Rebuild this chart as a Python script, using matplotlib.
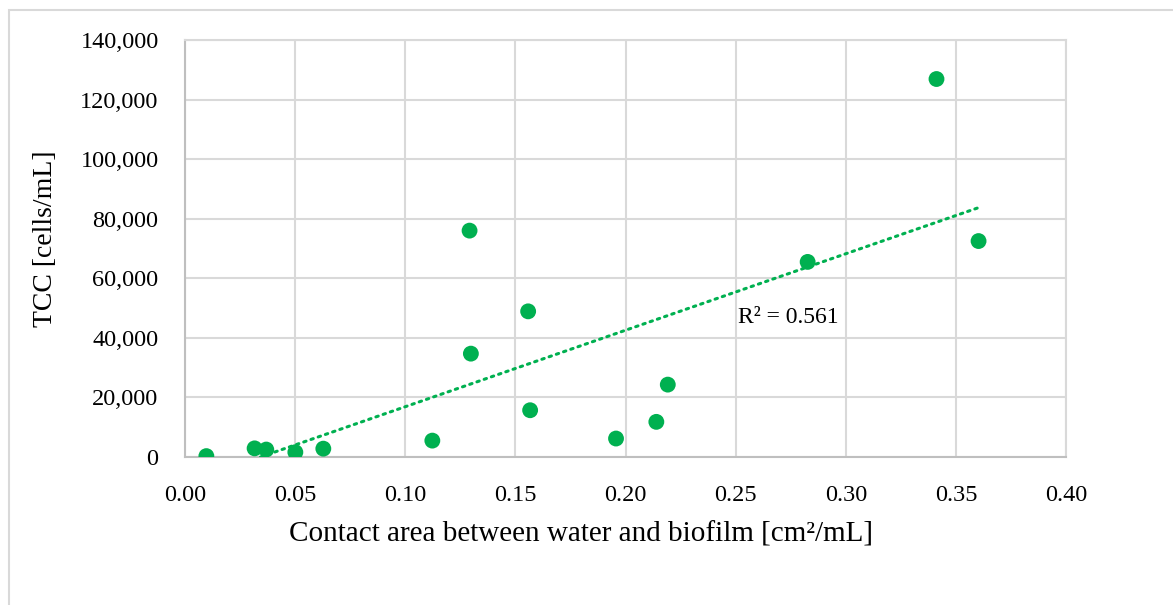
import matplotlib
matplotlib.use("Agg")
import matplotlib.pyplot as plt
import numpy as np
from matplotlib.patches import Rectangle
from matplotlib.ticker import FuncFormatter

contact_area = [0.0097, 0.0316, 0.0369, 0.0501, 0.0628, 0.1123, 0.1292, 0.1298,
                0.1558, 0.1567, 0.1957, 0.2140, 0.2192, 0.2827, 0.3412, 0.3603]
tcc = [300, 2900, 2500, 1600, 2800, 5500, 76000, 34700,
       48900, 15700, 6200, 11800, 24300, 65500, 126900, 72500]
x_ticks = [0.00, 0.05, 0.10, 0.15, 0.20, 0.25, 0.30, 0.35, 0.40]
y_ticks = [0, 20000, 40000, 60000, 80000, 100000, 120000, 140000]
r2_label = "R² = 0.561"

green = "#00B050"
grid_c = "#D9D9D9"
fam = ["Liberation Serif", "DejaVu Serif"]
plt.rcParams['font.family'] = fam

W, H = 1173, 605
fig = plt.figure(figsize=(W / 100, H / 100), dpi=100)
fig.patches.append(Rectangle((9 / W, -0.1), 1.2, 1 - 10 / H + 0.1, transform=fig.transFigure,
                             fill=False, edgecolor="#D9D9D9", linewidth=1.5))

left, right, top, bottom = 185, 1066, 40, 457
ax = fig.add_axes([left / W, 1 - bottom / H, (right - left) / W, (bottom - top) / H])

x = np.array(contact_area)
y = np.array(tcc)
slope, intercept = np.polyfit(x, y, 1)
x0 = max(x.min(), -intercept / slope)
xs = np.linspace(x0, x.max(), 200)
ys = slope * xs + intercept
ax.plot(xs, ys, color=green, linewidth=2.2, linestyle=(0, (0.8, 1.7)),
        dash_capstyle="round", zorder=3)
ax.scatter(x, y, s=130, color=green, edgecolors="none", zorder=4)

ax.set_xlim(0, 0.40)
ax.set_ylim(0, 140000)
ax.set_xticks(x_ticks)
ax.set_yticks(y_ticks)
ax.xaxis.set_major_formatter(FuncFormatter(lambda v, p: f"{v:.2f}"))
ax.yaxis.set_major_formatter(FuncFormatter(lambda v, p: f"{int(round(v)):,}"))
ax.grid(True, color=grid_c, linewidth=1.5)
ax.set_axisbelow(True)
for s in ["top", "right"]:
    ax.spines[s].set_color(grid_c)
    ax.spines[s].set_linewidth(1.5)
for s in ["left", "bottom"]:
    ax.spines[s].set_color("#BFBFBF")
    ax.spines[s].set_linewidth(1.5)
ax.tick_params(length=0, labelsize=17.5, colors="#000000")
ax.tick_params(axis="x", pad=20)
ax.tick_params(axis="y", pad=19)

ax.set_xlabel("Contact area between water and biofilm [cm²/mL]", fontsize=21, labelpad=11)
ax.set_ylabel("TCC [cells/mL]", fontsize=20, labelpad=16)
ax.xaxis.label.set_x(0.45)
ax.yaxis.label.set_y(0.524)

ax.text(0.251, 47000, r2_label, fontsize=17, ha="left", va="center")

fig.savefig("out.png", dpi=100)
